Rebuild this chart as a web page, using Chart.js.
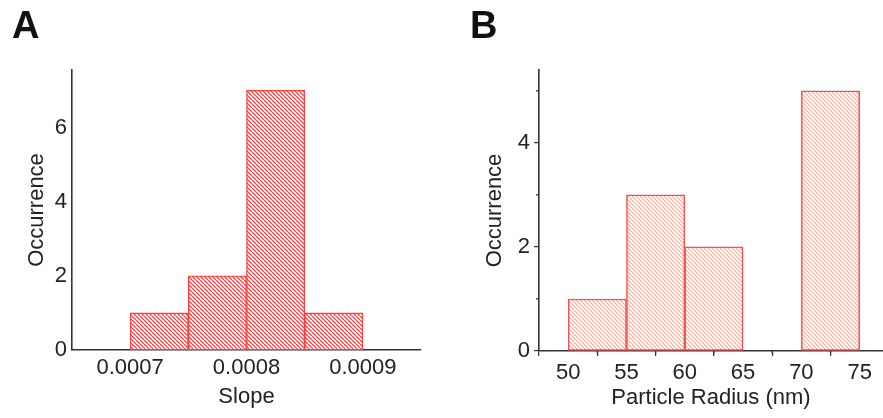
<!DOCTYPE html>
<html>
<head>
<meta charset="utf-8">
<script src="https://cdn.jsdelivr.net/npm/chart.js@4/dist/chart.umd.min.js"></script>
<style>
  body { margin: 0; background: #fff; }
  #wrap { position: relative; width: 883px; height: 418px; overflow: hidden; }
  canvas { position: absolute; top: 0; }
  .panel-tag { position: absolute; top: 4px; font: bold 38px "Liberation Sans", Arial, sans-serif; color: #111; }
</style>
</head>
<body>
<div id="wrap">
  <canvas id="chartA" width="440" height="418" style="left:0"></canvas>
  <canvas id="chartB" width="443" height="418" style="left:440px"></canvas>
  <div class="panel-tag" style="left:12px">A</div>
  <div class="panel-tag" style="left:470px">B</div>
</div>
<script>
// panel A: slope histogram
const slopeBinStart = [0.0007, 0.00075, 0.0008, 0.00085];
const slopeCounts = [1, 2, 7, 1];
const slopeBinWidth = 0.00005;
const slopeTicks = [0.0007, 0.0008, 0.0009];

// panel B: particle radius histogram
const radiusBinStart = [50, 55, 60, 70];
const radiusCounts = [1, 3, 2, 5];
const radiusBinWidth = 5;
const radiusMinorX = [52.5, 57.5, 62.5, 67.5, 72.5];
const radiusMinorY = [1, 3, 5];

const FONT = '"Liberation Sans", Arial, sans-serif';
const AXIS = '#333';

function hatch(color, lw) {
    const s = 4;
    const c = document.createElement('canvas');
    c.width = s; c.height = s;
    const g = c.getContext('2d');
    g.fillStyle = '#fff';
    g.fillRect(0, 0, s, s);
    g.strokeStyle = color;
    g.lineWidth = lw;
    g.beginPath();
    for (let k = -1; k <= 1; k++) {
        g.moveTo(k * s, 0);
        g.lineTo(k * s + s, s);
    }
    g.stroke();
    return g.createPattern(c, 'repeat');
}

const toPoints = (starts, counts, w) => starts.map((x, i) => ({ x: x + w / 2, y: counts[i] }));

// small tick marks between the labelled ones (panel B only)
const minorTicks = {
    id: 'minorTicks',
    afterDraw(chart, args, opts) {
        if (!opts.x) return;
        const { ctx, scales: { x, y } } = chart;
        ctx.save();
        ctx.strokeStyle = AXIS;
        ctx.lineWidth = 1.2;
        ctx.beginPath();
        opts.x.forEach(v => {
            const px = x.getPixelForValue(v);
            ctx.moveTo(px, y.bottom);
            ctx.lineTo(px, y.bottom + 3);
        });
        opts.y.forEach(v => {
            const py = y.getPixelForValue(v);
            ctx.moveTo(x.left, py);
            ctx.lineTo(x.left - 3, py);
        });
        ctx.stroke();
        ctx.restore();
    }
};

function makeChart(id, cfg) {
    const tickFont = { family: FONT, size: 22 };
    return new Chart(document.getElementById(id), {
        type: 'bar',
        data: {
            datasets: [{
                data: cfg.points,
                backgroundColor: cfg.fill,
                borderColor: cfg.border,
                borderWidth: cfg.borderWidth,
                borderSkipped: false,
                barPercentage: 1,
                categoryPercentage: 1
            }]
        },
        options: {
            responsive: false,
            animation: false,
            layout: { padding: cfg.padding },
            plugins: { legend: { display: false }, tooltip: { enabled: false }, minorTicks: cfg.minor },
            scales: {
                x: {
                    type: 'linear',
                    offset: false,
                    min: cfg.xMin, max: cfg.xMax,
                    afterFit: s => { s.height = cfg.xHeight; },
                    afterBuildTicks: cfg.xTicks ? s => { s.ticks = cfg.xTicks.map(v => ({ value: v })); } : undefined,
                    ticks: {
                        stepSize: cfg.xStep, includeBounds: false, autoSkip: false, maxRotation: 0,
                        padding: cfg.tickPad, color: '#222', font: tickFont,
                        callback: cfg.xLabel
                    },
                    grid: { display: cfg.ticks, drawOnChartArea: false, drawTicks: cfg.ticks, tickLength: 5, color: AXIS, lineWidth: 1.2 },
                    border: { display: true, color: AXIS, width: 1.6 },
                    title: { display: true, text: cfg.xTitle, color: '#222', font: tickFont, padding: { top: 0, bottom: cfg.xTitlePad } }
                },
                y: {
                    min: 0, max: cfg.yMax,
                    afterFit: s => { s.width = cfg.yWidth; },
                    ticks: { stepSize: 2, includeBounds: false, padding: cfg.tickPad, color: '#222', font: tickFont },
                    grid: { display: cfg.ticks, drawOnChartArea: false, drawTicks: cfg.ticks, tickLength: 5, color: AXIS, lineWidth: 1.2 },
                    border: { display: true, color: AXIS, width: 1.6 },
                    title: { display: true, text: 'Occurrence', color: '#222', font: tickFont, padding: { top: cfg.yTitlePad, bottom: 0 } }
                }
            }
        },
        plugins: [minorTicks]
    });
}

makeChart('chartA', {
    points: toPoints(slopeBinStart, slopeCounts, slopeBinWidth),
    fill: hatch('#f04848', 1.3),
    border: '#ff3b3b',
    borderWidth: 1.3,
    padding: { top: 70, right: 19, left: 0, bottom: 0 },
    xMin: 0.00065, xMax: 0.00095,
    xTicks: slopeTicks,
    xLabel: v => v.toFixed(4),
    xHeight: 68, yWidth: 72,
    yMax: 7.55,
    ticks: false, tickPad: 5,
    xTitle: 'Slope', xTitlePad: 8, yTitlePad: 24,
    minor: {}
});

makeChart('chartB', {
    points: toPoints(radiusBinStart, radiusCounts, radiusBinWidth),
    fill: hatch('#f6b0a0', 1.2),
    border: '#f45050',
    borderWidth: 1.5,
    padding: { top: 70, right: 0, left: 0, bottom: 0 },
    xMin: 47.5, xMax: 77,
    xStep: 5,
    xLabel: v => v,
    xHeight: 67, yWidth: 99,
    yMax: 5.4,
    ticks: true, tickPad: 4,
    xTitle: 'Particle Radius (nm)', xTitlePad: 7, yTitlePad: 42,
    minor: { x: radiusMinorX, y: radiusMinorY }
});
</script>
</body>
</html>
